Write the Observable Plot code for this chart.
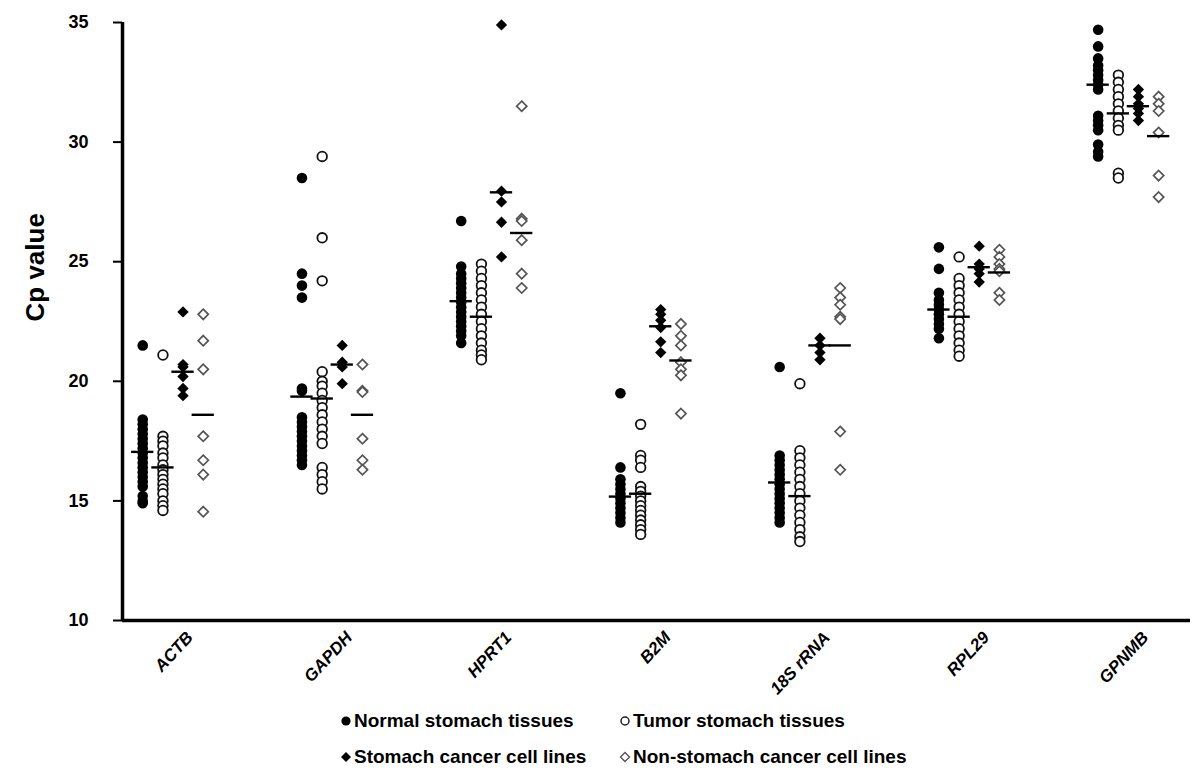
<!DOCTYPE html>
<html><head><meta charset="utf-8">
<script src="https://cdn.jsdelivr.net/npm/d3@7"></script>
<script src="https://cdn.jsdelivr.net/npm/@observablehq/plot@0.6"></script>
<style>
body{margin:0;background:#fff;font-family:"Liberation Sans",Arial,sans-serif;}
#chart{position:relative;width:1200px;height:776px;overflow:hidden;}
#chart svg.plot{position:absolute;left:0;top:0;}
.leg{position:absolute;font-weight:bold;font-size:19px;color:#000;white-space:nowrap;line-height:22px;}
.leg svg{position:absolute;}
</style></head><body><div id="chart"></div>
<script>
// Categories (genes) and groups
const genes = ["ACTB", "GAPDH", "HPRT1", "B2M", "18S rRNA", "RPL29", "GPNMB"];
const groupNames = ["Normal stomach tissues", "Tumor stomach tissues", "Stomach cancer cell lines", "Non-stomach cancer cell lines"];
const yTicks = [10, 15, 20, 25, 30, 35];

// Cp values per gene (order as genes)
const normalTissue = [
  [21.5, 18.4, 18.2, 18.0, 17.8, 17.6, 17.4, 17.2, 17.0, 16.8, 16.6, 16.4, 16.2, 16.0, 15.8, 15.6, 15.2, 15.0, 14.9],
  [28.5, 24.5, 24.0, 23.5, 19.7, 19.6, 18.5, 18.3, 18.1, 17.9, 17.7, 17.5, 17.3, 17.1, 16.9, 16.7, 16.5],
  [26.7, 24.8, 24.5, 24.3, 24.1, 23.9, 23.7, 23.5, 23.3, 23.1, 22.9, 22.7, 22.5, 22.3, 22.1, 21.9, 21.6],
  [19.5, 16.4, 15.9, 15.7, 15.5, 15.3, 15.1, 14.9, 14.7, 14.5, 14.3, 14.1],
  [20.6, 16.9, 16.7, 16.5, 16.3, 16.1, 15.9, 15.7, 15.5, 15.3, 15.1, 14.9, 14.7, 14.5, 14.3, 14.1],
  [25.6, 24.7, 23.7, 23.4, 23.2, 23.0, 22.8, 22.6, 22.4, 22.2, 21.8],
  [34.7, 34.0, 33.5, 33.2, 33.0, 32.8, 32.6, 32.4, 32.2, 31.1, 30.9, 30.7, 30.5, 29.9, 29.6, 29.4]
];
const tumorTissue = [
  [21.1, 17.7, 17.5, 17.3, 17.0, 16.8, 16.5, 16.3, 16.1, 15.9, 15.7, 15.5, 15.3, 15.0, 14.8, 14.6],
  [29.4, 26.0, 24.2, 20.4, 20.0, 19.8, 19.5, 19.2, 18.9, 18.6, 18.3, 18.0, 17.7, 17.4, 16.4, 16.1, 15.8, 15.5],
  [24.9, 24.6, 24.3, 24.0, 23.7, 23.4, 23.1, 22.8, 22.5, 22.2, 21.9, 21.6, 21.3, 21.1, 20.9],
  [18.2, 16.9, 16.7, 16.4, 15.6, 15.4, 15.2, 15.0, 14.8, 14.6, 14.4, 14.2, 14.0, 13.8, 13.6],
  [19.9, 17.1, 16.8, 16.5, 16.2, 15.9, 15.6, 15.3, 15.0, 14.7, 14.4, 14.1, 13.8, 13.5, 13.3],
  [25.2, 24.3, 24.0, 23.7, 23.4, 23.1, 22.8, 22.5, 22.2, 21.9, 21.6, 21.3, 21.05],
  [32.8, 32.5, 32.2, 31.9, 31.6, 31.3, 31.0, 30.7, 30.5, 28.7, 28.5]
];
const stomachLines = [
  [22.9, 20.7, 20.6, 20.2, 19.7, 19.4],
  [21.5, 20.8, 20.6, 19.9],
  [34.9, 27.95, 27.5, 26.65, 25.2],
  [23.0, 22.8, 22.55, 22.25, 21.65, 21.2],
  [21.8, 21.5, 21.2, 20.9],
  [25.65, 24.9, 24.7, 24.5, 24.15],
  [32.2, 31.9, 31.6, 31.4, 31.2, 30.9]
];
const nonStomachLines = [
  [22.8, 21.7, 20.5, 17.7, 16.7, 16.1, 14.55],
  [20.7, 19.6, 19.55, 17.6, 16.7, 16.3],
  [31.5, 26.8, 26.7, 25.9, 24.5, 23.9],
  [22.4, 21.9, 21.5, 20.8, 20.5, 20.25, 18.65],
  [23.9, 23.5, 23.2, 22.7, 22.6, 17.9, 16.3],
  [25.5, 25.2, 24.9, 24.7, 24.6, 23.7, 23.4],
  [31.9, 31.6, 31.3, 30.4, 28.6, 27.7]
];
// Mean lines as drawn (per gene)
const normalMean = [17.05, 19.36, 23.35, 15.18, 15.77, 23.0, 32.4];
const tumorMean = [16.4, 19.28, 22.7, 15.3, 15.2, 22.7, 31.2];
const stomachMean = [20.4, 20.7, 27.9, 22.3, 21.5, 24.77, 31.5];
const nonStomachMean = [18.6, 18.6, 26.2, 20.87, 21.5, 24.55, 30.25];

const offsets = [-0.19, -0.063, 0.063, 0.19];
const allSeries = [normalTissue, tumorTissue, stomachLines, nonStomachLines];
const allMeans = [normalMean, tumorMean, stomachMean, nonStomachMean];

function rowsFor(k) {
  const out = [];
  allSeries[k].forEach((vals, i) => vals.forEach(v => out.push({gene: genes[i], group: groupNames[k], x: i + offsets[k], y: v})));
  return out;
}
const meanRows = [];
allMeans.forEach((arr, k) => arr.forEach((v, i) => meanRows.push({gene: genes[i], group: groupNames[k], x: i + offsets[k], y: v})));

const xDomain = [-0.317, 6.39];

const plot = Plot.plot({
  width: 1200,
  height: 700,
  marginLeft: 122,
  marginRight: 10,
  marginTop: 22,
  marginBottom: 80,
  style: {fontFamily: "'Liberation Sans', Arial, sans-serif", background: "#fff", color: "#000"},
  x: {domain: xDomain, axis: null},
  y: {domain: [10, 35], nice: false, axis: null},
  marks: [
    Plot.axisY({ticks: yTicks, tickSize: 9, tickPadding: 25, fontSize: 18, fontWeight: "bold", strokeWidth: 2, label: null}),
    Plot.text(["Cp value"], {frameAnchor: "left", rotate: -90, dx: -87, fontSize: 26, fontWeight: "bold", fill: "#000"}),
    Plot.dot(rowsFor(0), {x: "x", y: "y", r: 5.3, fill: "#000", stroke: "none"}),
    Plot.dot(rowsFor(1), {x: "x", y: "y", r: 4.8, fill: "#fff", stroke: "#111", strokeWidth: 1.8}),
    Plot.dot(rowsFor(2), {x: "x", y: "y", r: 5.1, symbol: "diamond2", fill: "#000", stroke: "none"}),
    Plot.dot(rowsFor(3), {x: "x", y: "y", r: 4.6, symbol: "diamond2", fill: "#fff", stroke: "#555", strokeWidth: 1.7}),
    Plot.ruleY(meanRows, {y: "y", x1: d => d.x - 0.07, x2: d => d.x + 0.07, stroke: "#000", strokeWidth: 2.4}),
    Plot.ruleY([10], {stroke: "#000", strokeWidth: 3.5}),
    Plot.ruleX([xDomain[0]], {y1: 10, y2: 35, stroke: "#000", strokeWidth: 3.5}),
    Plot.text(genes, {x: (d, i) => i, y: () => 10, text: d => d, rotate: -47, textAnchor: "end", dx: 17, dy: 14, fontSize: 17, fontWeight: "bold", fontStyle: "italic", fill: "#000"})
  ]
});
const chart = document.getElementById("chart");
chart.appendChild(plot);

// Legend (HTML, below the SVG)
const legendItems = [
  {label: groupNames[0], sym: '<circle cx="6" cy="6" r="4.6" fill="#000"/>', left: 340, top: 710},
  {label: groupNames[1], sym: '<circle cx="6" cy="6" r="4" fill="#fff" stroke="#222" stroke-width="1.5"/>', left: 619, top: 710},
  {label: groupNames[2], sym: '<path d="M6 1 L11 6 L6 11 L1 6 Z" fill="#000"/>', left: 340, top: 746},
  {label: groupNames[3], sym: '<path d="M6 1.5 L10.5 6 L6 10.5 L1.5 6 Z" fill="#fff" stroke="#555" stroke-width="1.4"/>', left: 619, top: 746}
];
legendItems.forEach(it => {
  const d = document.createElement("div");
  d.className = "leg";
  d.style.left = it.left + "px";
  d.style.top = it.top + "px";
  d.innerHTML = `<svg width="12" height="12" style="left:0;top:5px">${it.sym}</svg><span style="margin-left:14px">${it.label}</span>`;
  chart.appendChild(d);
});
</script></body></html>
